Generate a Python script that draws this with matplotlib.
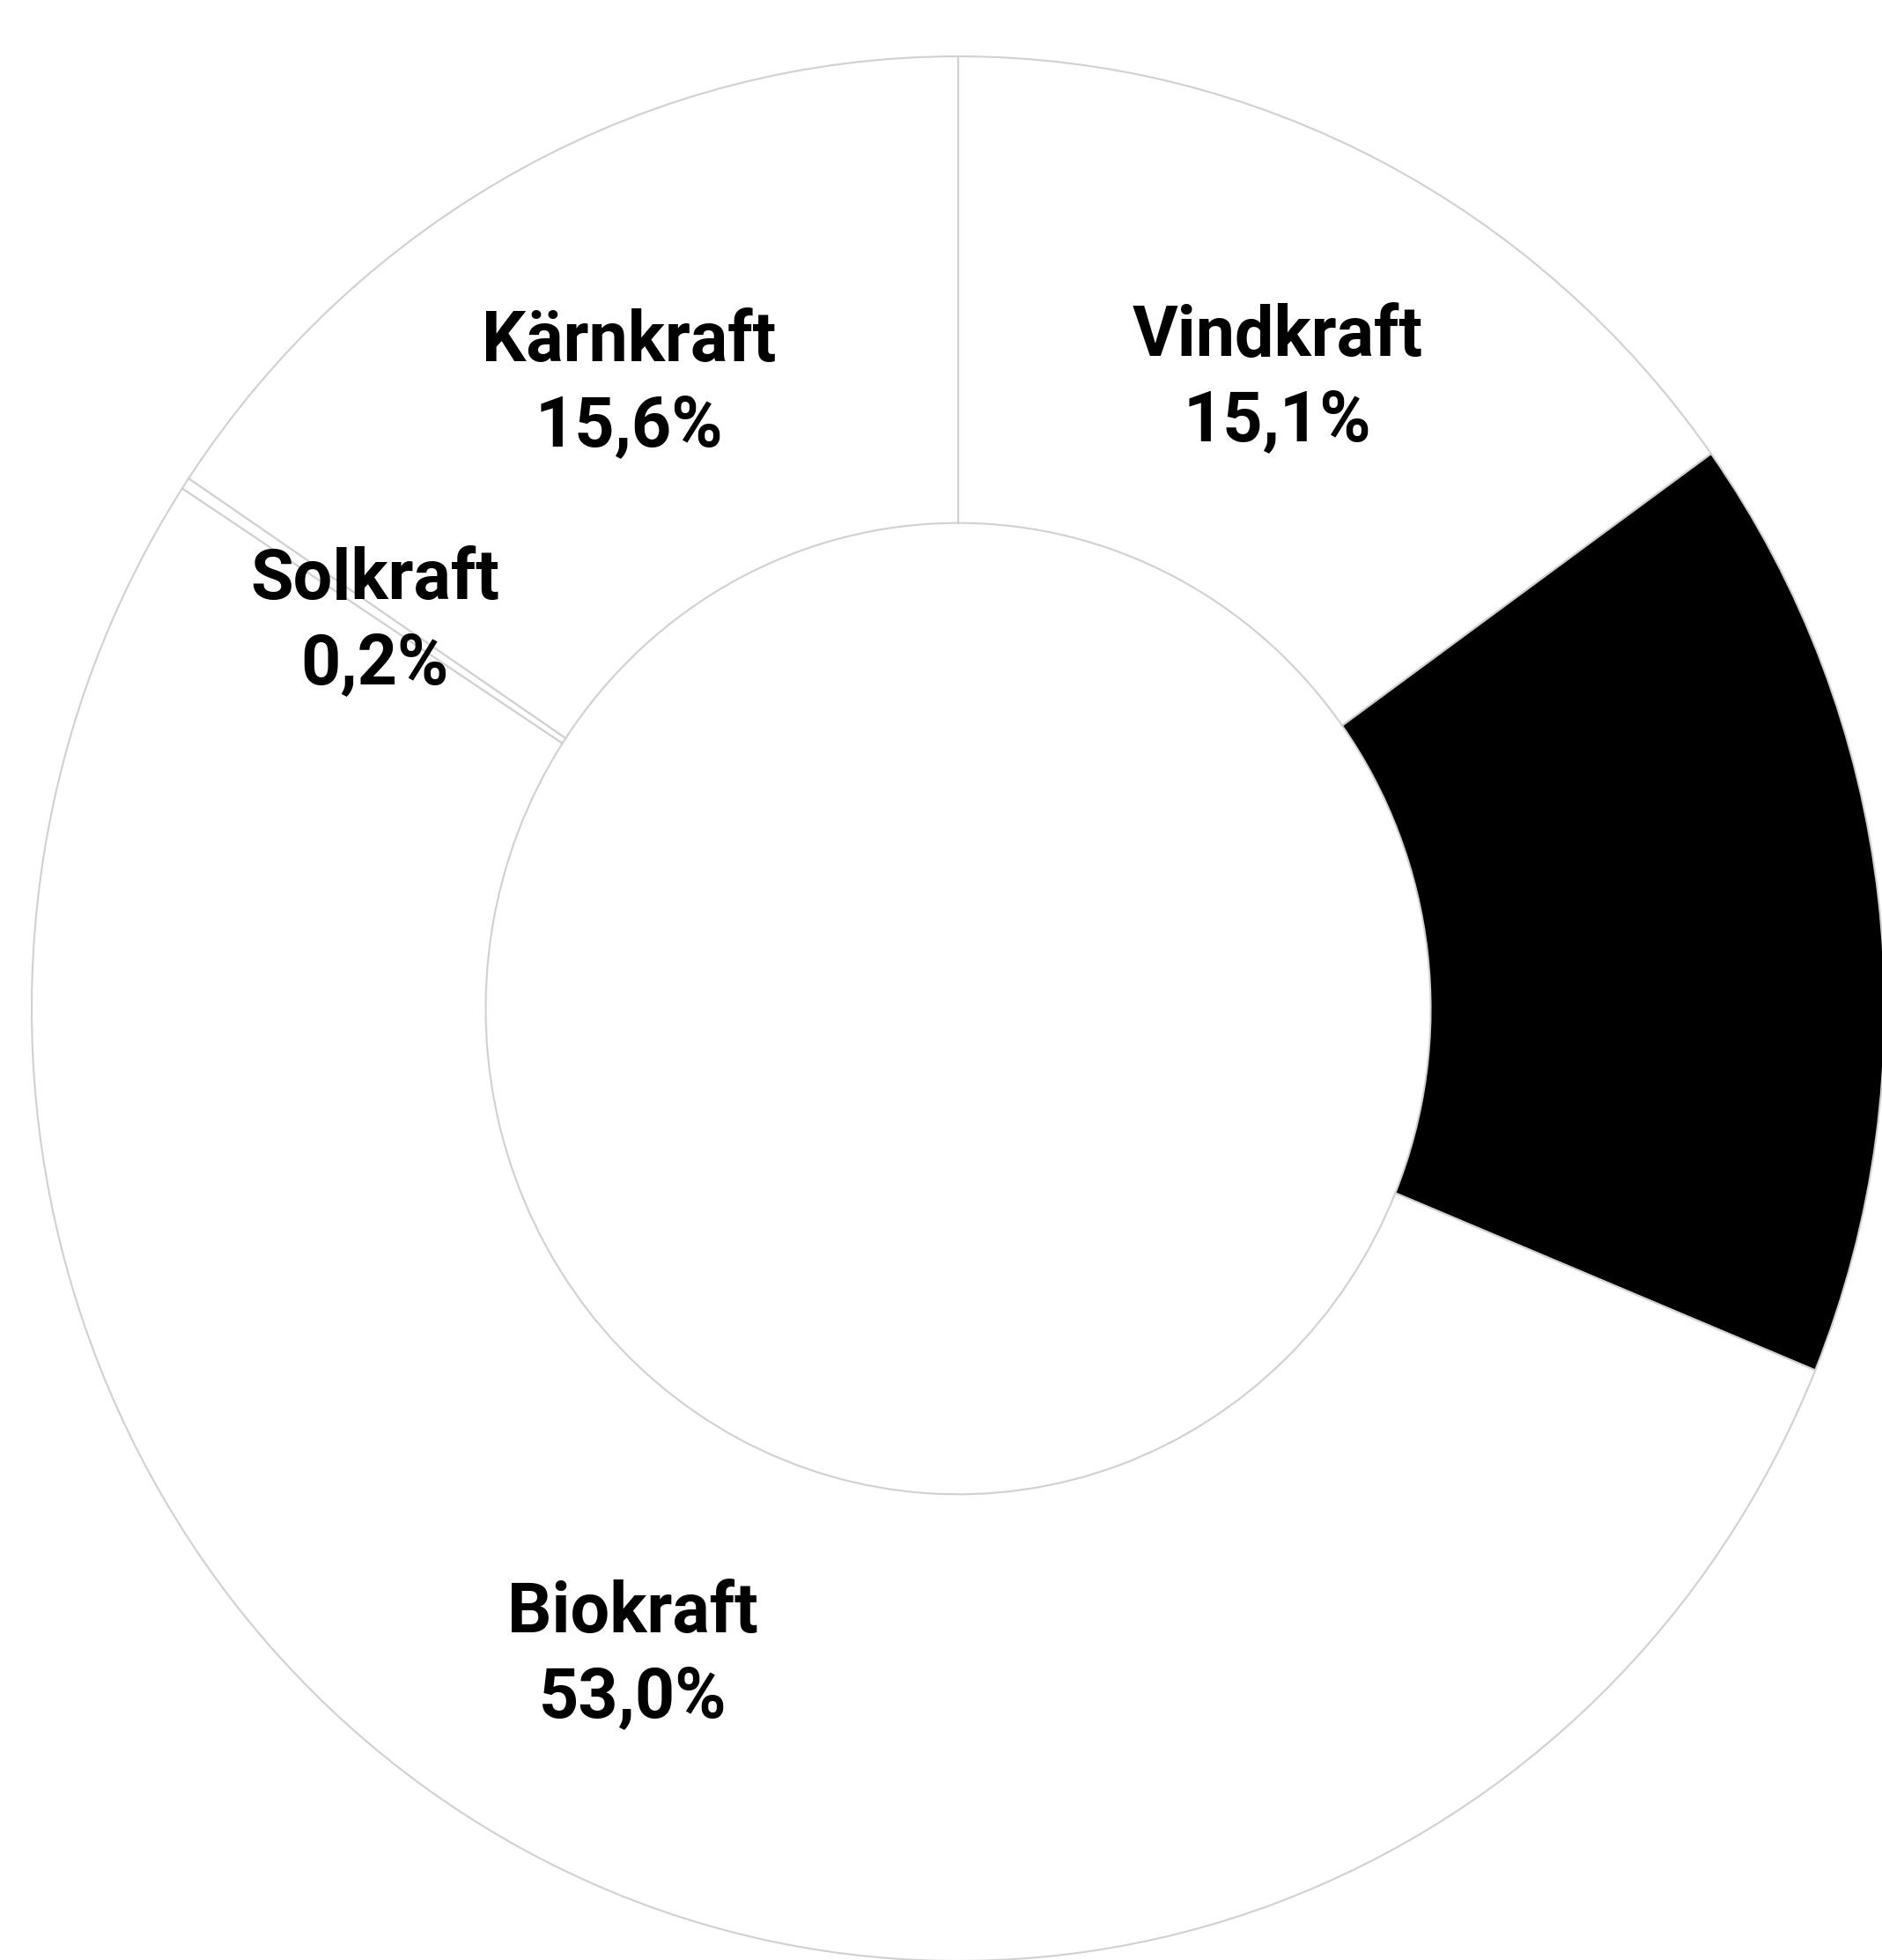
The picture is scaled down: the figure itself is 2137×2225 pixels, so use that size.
import matplotlib
matplotlib.use("Agg")
import matplotlib.pyplot as plt
import matplotlib.transforms as mtransforms
import numpy as np

# Data (clockwise from 12 o'clock)
categories = ["Vindkraft", "Vattenkraft", "Biokraft", "Solkraft", "Kärnkraft"]
values = [15.1, 16.1, 53.0, 0.2, 15.6]
value_labels = ["15,1%", "16,1%", "53,0%", "0,2%", "15,6%"]
show_label = [True, False, True, True, True]
colors = ["#ffffff", "#000000", "#ffffff", "#ffffff", "#ffffff"]

plt.rcParams['font.family'] = ['Roboto', 'DejaVu Sans']

W, H = 2137, 2225
fig = plt.figure(figsize=(W / 100, H / 100), dpi=100)
# donut slightly stretched vertically (as in the reference)
ax = fig.add_axes([36 / W, -1 / H, 2104 / W, 2162 / H])

wedges, _ = ax.pie(values, colors=colors, startangle=90, counterclock=False,
                   radius=1.0,
                   wedgeprops=dict(width=0.49, edgecolor="#d0d0d0", linewidth=1.5))

shift = mtransforms.ScaledTranslation(0, -12 / 100, fig.dpi_scale_trans)
for w, cat, lab, show in zip(wedges, categories, value_labels, show_label):
    if not show:
        continue
    ang = np.deg2rad((w.theta1 + w.theta2) / 2)
    r = 0.755
    ax.text(r * np.cos(ang), r * np.sin(ang), f"{cat}\n{lab}",
            ha="center", va="center", fontsize=57, fontweight="bold",
            color="black", linespacing=1.36,
            transform=ax.transData + shift)

ax.set_aspect("auto")
ax.set_xlim(-1, 1)
ax.set_ylim(-1, 1)
ax.axis("off")

fig.savefig("out.png", dpi=100, facecolor="white")
